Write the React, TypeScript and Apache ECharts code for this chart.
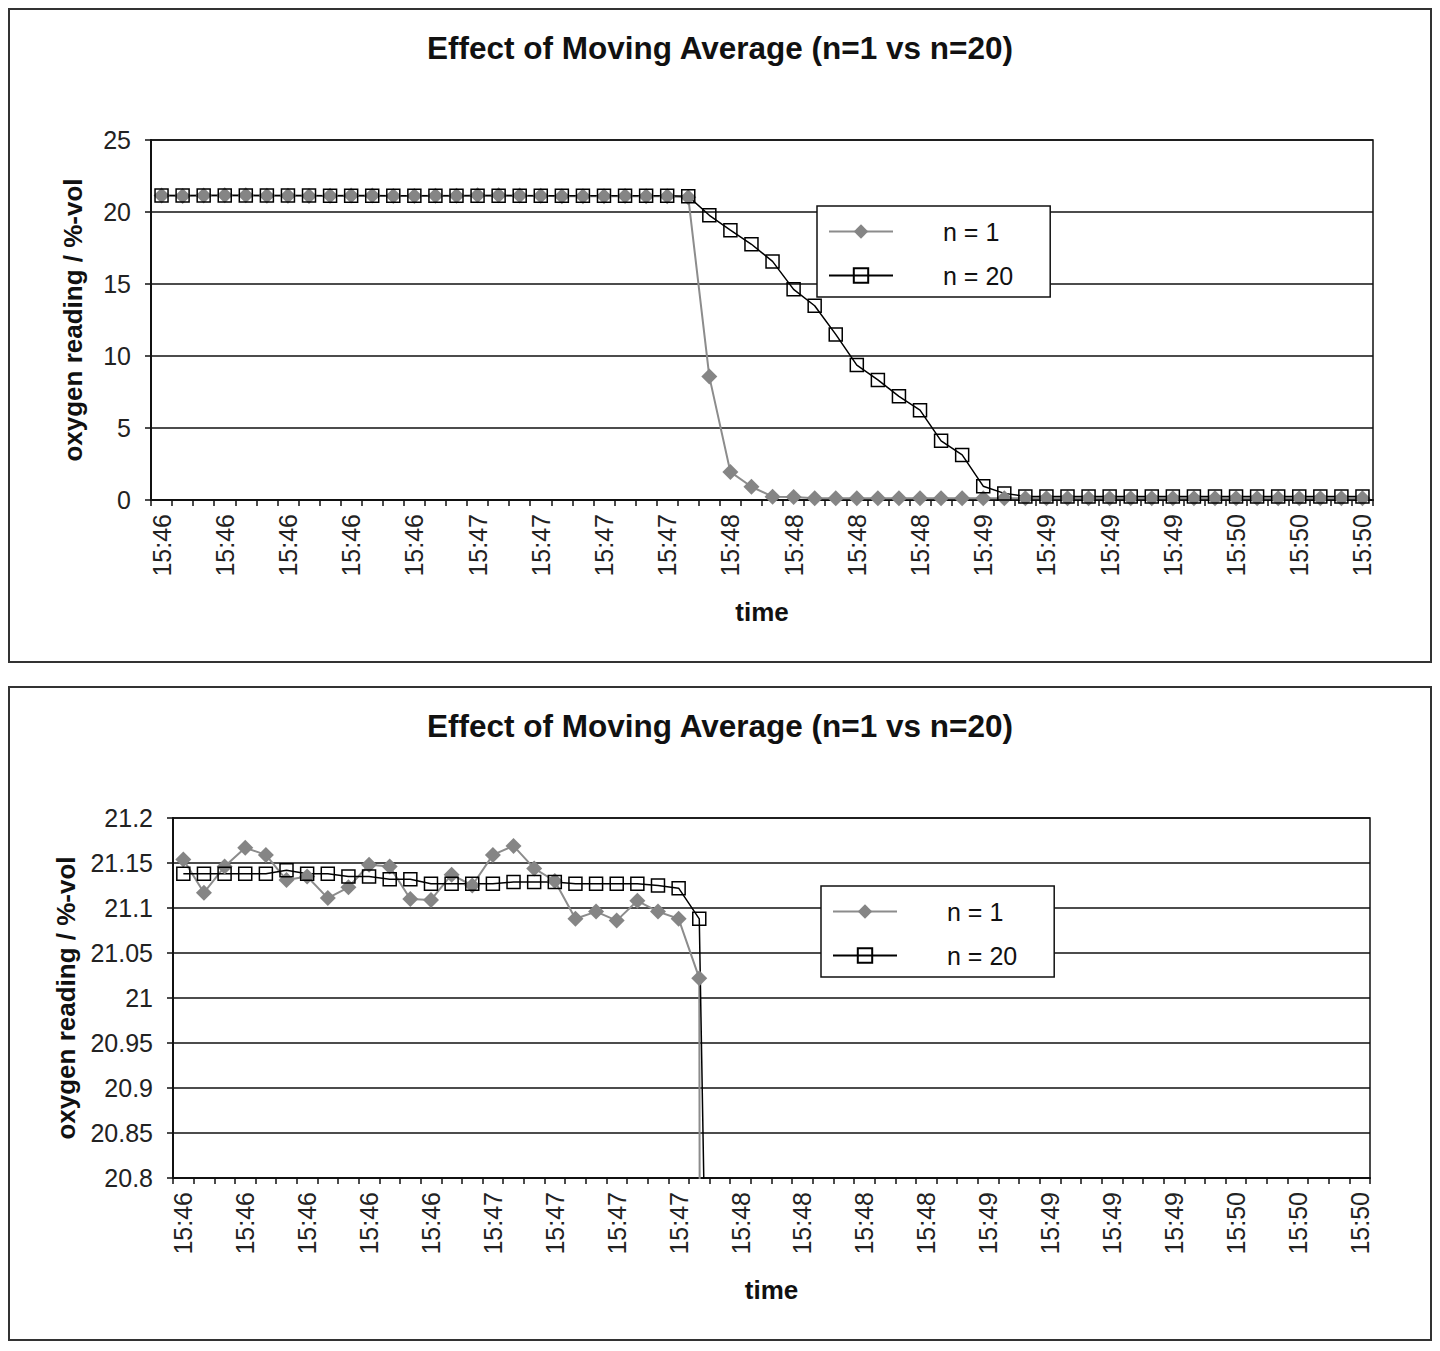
import { useEffect, useRef } from "react";
import * as echarts from "echarts";

// Sample times (one reading every 5 s); every third one is labelled on the axis
const TIMES = [
  "15:46", "15:46", "15:46", "15:46", "15:46", "15:46", "15:46", "15:46", "15:46", "15:46",
  "15:46", "15:46", "15:46", "15:46", "15:46",
  "15:47", "15:47", "15:47", "15:47", "15:47", "15:47", "15:47", "15:47", "15:47", "15:47",
  "15:47", "15:47",
  "15:48", "15:48", "15:48", "15:48", "15:48", "15:48", "15:48", "15:48", "15:48", "15:48",
  "15:48", "15:48",
  "15:49", "15:49", "15:49", "15:49", "15:49", "15:49", "15:49", "15:49", "15:49", "15:49",
  "15:49", "15:49",
  "15:50", "15:50", "15:50", "15:50", "15:50", "15:50", "15:50",
];

// Raw oxygen readings (n = 1)
const N1 = [
  21.154, 21.117, 21.146, 21.167, 21.159, 21.131, 21.135, 21.111, 21.123, 21.148,
  21.146, 21.11, 21.109, 21.137, 21.125, 21.159, 21.169, 21.144, 21.13, 21.088,
  21.096, 21.086, 21.108, 21.096, 21.088, 21.022,
  8.57, 1.95, 0.92, 0.23, 0.21,
  0.13, 0.13, 0.13, 0.13, 0.13, 0.13, 0.13, 0.13, 0.13, 0.13,
  0.13, 0.13, 0.13, 0.13, 0.13, 0.13, 0.13, 0.13, 0.13, 0.13,
  0.13, 0.13, 0.13, 0.13, 0.13, 0.13, 0.13,
];

// Moving-average readings (n = 20)
const N20 = [
  21.138, 21.138, 21.138, 21.138, 21.138, 21.142, 21.138, 21.138, 21.135, 21.135,
  21.132, 21.132, 21.127, 21.127, 21.127, 21.127, 21.129, 21.129, 21.129, 21.127,
  21.127, 21.127, 21.127, 21.125, 21.122, 21.088,
  19.77, 18.74, 17.76, 16.57, 14.63, 13.49, 11.5, 9.37, 8.34, 7.2,
  6.24, 4.11, 3.13, 0.96, 0.46,
  0.25, 0.25, 0.25, 0.25, 0.25, 0.25, 0.25, 0.25, 0.25, 0.25,
  0.25, 0.25, 0.25, 0.25, 0.25, 0.25, 0.25,
];

const SERIES_NAMES = ["n = 1", "n = 20"];
const TITLE = "Effect of Moving Average (n=1 vs n=20)";
const Y_NAME = "oxygen reading / %-vol";
const X_NAME = "time";

// y ranges: [min, max, interval]
const FULL_RANGE = [0, 25, 5];
const ZOOM_RANGE = [20.8, 21.2, 0.05];

const FONT = '"Liberation Sans", Arial, Helvetica, sans-serif';

type Cfg = {
  range: number[];
  gridLeft: number;
  gridRight: number;
  yNameGap: number;
  legendLeft: number;
  legendTop: number;
  decimals: number;
};

function buildOption(cfg: Cfg): echarts.EChartsOption {
  const [min, max, interval] = cfg.range;
  return {
    animation: false,
    backgroundColor: "#fff",
    title: {
      text: TITLE,
      left: "center",
      top: 17,
      textStyle: { fontFamily: FONT, fontSize: 31.5, fontWeight: "bold", color: "#111" },
    },
    legend: {
      orient: "vertical",
      left: cfg.legendLeft,
      top: cfg.legendTop,
      itemWidth: 64,
      itemHeight: 18,
      itemGap: 19,
      padding: [13, 37, 9, 11],
      backgroundColor: "#fff",
      borderColor: "#111",
      borderWidth: 1.5,
      borderRadius: 0,
      selectedMode: false,
      data: SERIES_NAMES,
      textStyle: {
        fontFamily: FONT,
        fontSize: 25,
        color: "#111",
        padding: [0, 0, 0, 45],
      },
    },
    grid: {
      left: cfg.gridLeft,
      right: cfg.gridRight,
      top: 130,
      bottom: 161,
      show: true,
      borderColor: "#111",
      borderWidth: 1.5,
      backgroundColor: "transparent",
    },
    xAxis: {
      type: "category",
      data: TIMES,
      boundaryGap: true,
      name: X_NAME,
      nameLocation: "middle",
      nameGap: 99,
      nameTextStyle: { fontFamily: FONT, fontSize: 26, fontWeight: "bold", color: "#111" },
      axisLine: { lineStyle: { color: "#111", width: 2 } },
      axisTick: { show: true, interval: 0, length: 6, lineStyle: { color: "#111", width: 1.5 } },
      axisLabel: {
        interval: 2,
        rotate: 90,
        margin: 14,
        fontFamily: FONT,
        fontSize: 25,
        color: "#222",
      },
      splitLine: { show: false },
    },
    yAxis: {
      type: "value",
      min,
      max,
      interval,
      name: Y_NAME,
      nameLocation: "middle",
      nameGap: cfg.yNameGap,
      nameTextStyle: { fontFamily: FONT, fontSize: 26, fontWeight: "bold", color: "#111" },
      axisLine: { show: true, lineStyle: { color: "#111", width: 2 } },
      axisTick: { show: true, length: 6, lineStyle: { color: "#111", width: 1.5 } },
      axisLabel: {
        margin: 20,
        fontFamily: FONT,
        fontSize: 25,
        color: "#222",
        formatter: (v: number) => String(parseFloat(v.toFixed(cfg.decimals))),
      },
      splitLine: { show: true, lineStyle: { color: "#111", width: 1.5 } },
    },
    series: [
      {
        name: SERIES_NAMES[0],
        type: "line",
        data: N1,
        symbol: "diamond",
        symbolSize: 16,
        showSymbol: true,
        showAllSymbol: true,
        clip: true,
        itemStyle: { color: "#858585" },
        lineStyle: { color: "#8c8c8c", width: 2 },
        emphasis: { disabled: true },
      },
      {
        name: SERIES_NAMES[1],
        type: "line",
        data: N20,
        symbol: "rect",
        symbolSize: 13,
        showSymbol: true,
        showAllSymbol: true,
        clip: true,
        itemStyle: { color: "rgba(255,255,255,0)", borderColor: "#000", borderWidth: 1.5 },
        lineStyle: { color: "#000", width: 1.5 },
        emphasis: { disabled: true },
      },
    ],
  };
}

function Chart({ cfg }: { cfg: Cfg }) {
  const ref = useRef<HTMLDivElement>(null);
  useEffect(() => {
    if (!ref.current) return;
    const chart = echarts.init(ref.current, undefined, { renderer: "svg" });
    chart.setOption(buildOption(cfg));
    return () => chart.dispose();
  }, [cfg]);
  return <div ref={ref} style={{ width: 1420, height: 651 }} />;
}

const TOP_CFG: Cfg = {
  range: FULL_RANGE,
  gridLeft: 141,
  gridRight: 57,
  yNameGap: 65,
  legendLeft: 807,
  legendTop: 196,
  decimals: 0,
};

const BOTTOM_CFG: Cfg = {
  range: ZOOM_RANGE,
  gridLeft: 163,
  gridRight: 60,
  yNameGap: 94,
  legendLeft: 811,
  legendTop: 198,
  decimals: 2,
};

const boxStyle: React.CSSProperties = {
  width: 1424,
  height: 655,
  border: "2px solid #333",
  boxSizing: "border-box",
  background: "#fff",
};

export default function App() {
  return (
    <div>
      <div style={boxStyle}>
        <Chart cfg={TOP_CFG} />
      </div>
      <div style={{ ...boxStyle, marginTop: 23 }}>
        <Chart cfg={BOTTOM_CFG} />
      </div>
    </div>
  );
}
